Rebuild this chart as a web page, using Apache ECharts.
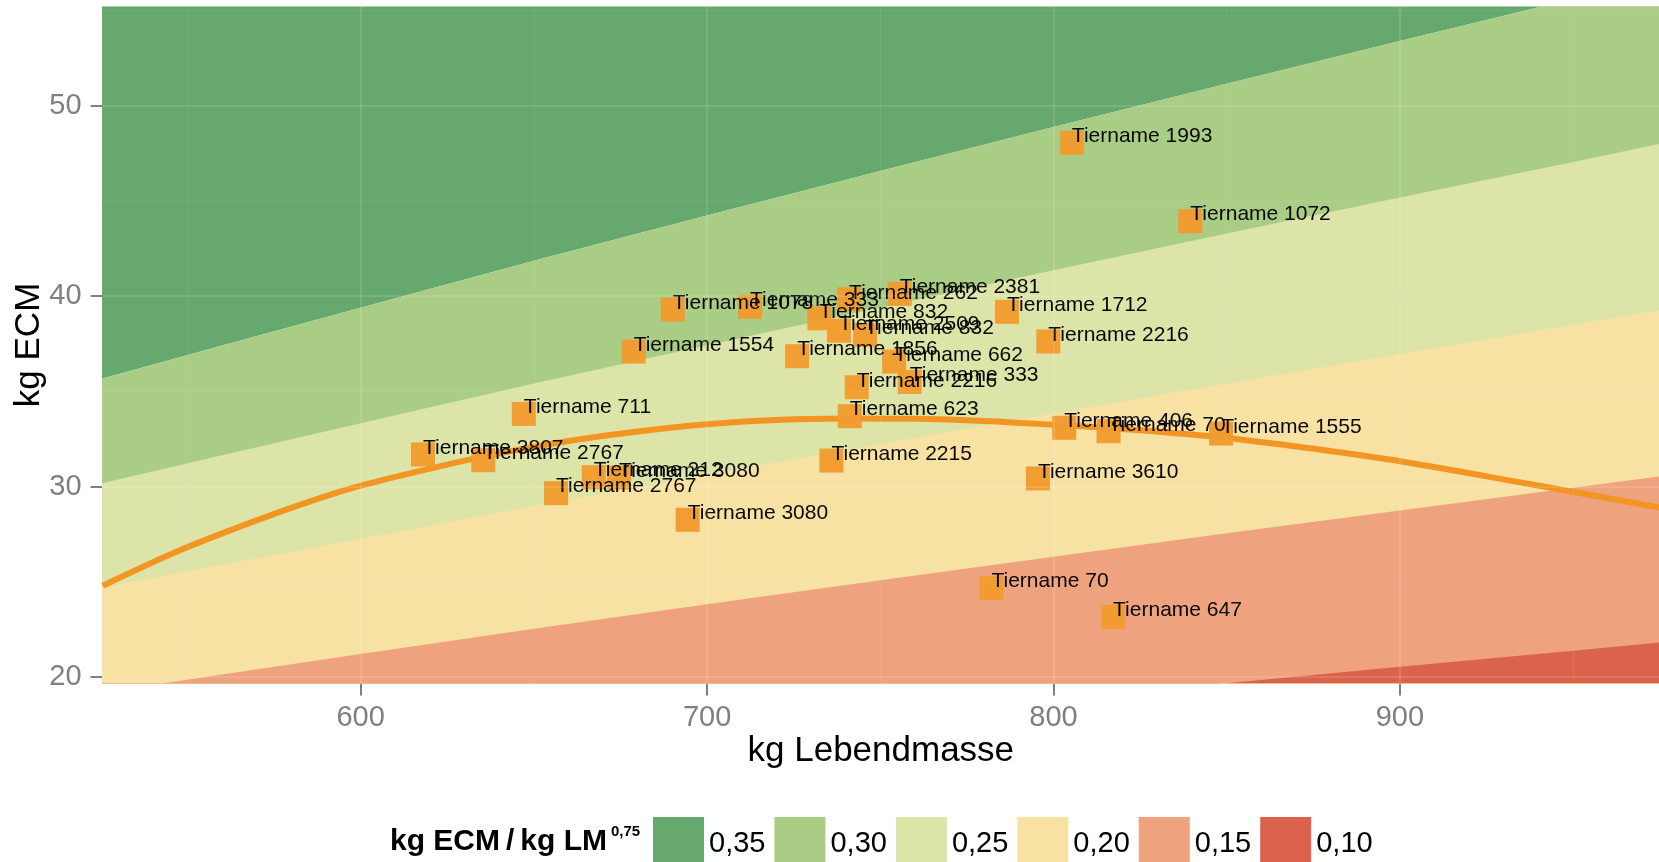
<!DOCTYPE html>
<html><head><meta charset="utf-8">
<script src="https://cdn.jsdelivr.net/npm/echarts@6/dist/echarts.min.js"></script>
<style>html,body{margin:0;padding:0;background:#fff;}#c{width:1659px;height:862px;}</style>
</head><body><div id="c"></div>
<script>
// ---- data ----
const animalNames = ['Tiername 1993','Tiername 1072','Tiername 2381','Tiername 262','Tiername 1078','Tiername 333',
  'Tiername 832','Tiername 2509','Tiername 832','Tiername 1712','Tiername 1554','Tiername 1856','Tiername 662',
  'Tiername 2216','Tiername 2216','Tiername 333','Tiername 623','Tiername 711','Tiername 3807','Tiername 2767',
  'Tiername 212','Tiername 3080','Tiername 2767','Tiername 3080','Tiername 2215','Tiername 406','Tiername 70',
  'Tiername 1555','Tiername 3610','Tiername 70','Tiername 647'];
const liveMass = [805.3, 839.5, 755.6, 741.0, 690.1, 712.4, 732.4, 738.1, 745.6, 786.6, 678.8, 726.0, 754.0,
  798.5, 743.2, 758.5, 741.2, 647.1, 618.0, 635.4, 667.3, 674.6, 656.4, 694.4, 735.9, 803.1, 815.9,
  848.4, 795.5, 782.1, 817.2];
const ecmYield = [48.05, 43.94, 40.12, 39.84, 39.30, 39.44, 38.84, 38.19, 37.97, 39.18, 37.09, 36.85, 36.57,
  37.62, 35.22, 35.50, 33.70, 33.82, 31.69, 31.39, 30.50, 30.48, 29.66, 28.26, 31.37, 33.09, 32.91,
  32.79, 30.43, 24.67, 23.17];

// smoothed trend line
const curveMass = [525.5, 547, 568, 585, 600, 620, 640, 660, 680, 700, 720, 740, 760, 780, 800, 827, 855, 896, 937, 975];
const curveEcm  = [24.8, 26.6, 28.1, 29.2, 30.05, 30.95, 31.75, 32.4, 32.9, 33.28, 33.5, 33.58, 33.56, 33.45, 33.25, 32.93, 32.45, 31.45, 30.15, 28.9];

// efficiency band borders (kg ECM at given live mass)
const bandMass = [520, 560, 600, 650, 700, 750, 800, 850, 900, 950, 980];
const border325 = [35.39, 37.41, 39.39, 41.86, 44.23, 46.57, 48.88, 51.16, 53.40, 55.61, 56.94];
const border275 = [29.95, 31.65, 33.33, 35.42, 37.43, 39.41, 41.36, 43.29, 45.18, 47.05, 48.18];
const border225 = [24.50, 25.90, 27.27, 28.98, 30.62, 32.24, 33.84, 35.42, 36.97, 38.50, 39.42];
const border175 = [19.06, 20.14, 21.21, 22.54, 23.82, 25.08, 26.32, 27.55, 28.75, 29.94, 30.66];
const border125 = [13.61, 14.39, 15.15, 16.10, 17.01, 17.91, 18.80, 19.68, 20.54, 21.39, 21.90];

const bandNames = ['0,35','0,30','0,25','0,20','0,15','0,10'];
const xTicks = [600, 700, 800, 900];
const yTicks = [20, 30, 40, 50];
const xMinorGrid = [550, 650, 750, 850, 950];
const yMinorGrid = [25, 35, 45, 55];

// ---- chart ----
const FONT = 'Liberation Sans, Arial, sans-serif';
const bandColors = ['#66A86E', '#AACD85', '#DCE4A8', '#F7E1A3', '#EEA37E', '#DC634B'];
const bandBorders = [border325, border325, border275, border225, border175, border125];
const zip = (a, b) => a.map((v, i) => [v, b[i]]);

const series = bandNames.map((nm, i) => ({
  name: nm, type: 'line', z: 1, silent: true,
  data: zip(bandMass, bandBorders[i]),
  showSymbol: false, symbol: 'none',
  color: bandColors[i],
  itemStyle: { color: bandColors[i] },
  lineStyle: { width: 0, opacity: 0 },
  areaStyle: { color: bandColors[i], opacity: 1, origin: i === 0 ? 'end' : 'start' },
  clip: true, animation: false
}));

const gridLineMajor = { color: 'rgba(255,255,255,0.12)', width: 2.2, type: 'solid' };
const gridLineMinor = { color: 'rgba(255,255,255,0.07)', width: 1.2, type: 'solid' };
series.push({
  name: 'grid', type: 'line', z: 2, silent: true, data: [],
  markLine: {
    silent: true, symbol: 'none', animation: false, label: { show: false },
    data: [
      ...xTicks.map(v => ({ xAxis: v, lineStyle: gridLineMajor })),
      ...xMinorGrid.map(v => ({ xAxis: v, lineStyle: gridLineMinor })),
      ...yTicks.map(v => ({ yAxis: v, lineStyle: gridLineMajor })),
      ...yMinorGrid.map(v => ({ yAxis: v, lineStyle: gridLineMinor }))
    ]
  }
});

series.push({
  name: 'trend', type: 'line', z: 3, silent: true,
  data: zip(curveMass, curveEcm),
  smooth: 0.3, showSymbol: false, symbol: 'none',
  lineStyle: { color: '#F39522', width: 6 }, clip: true
});

series.push({
  name: 'animals', type: 'scatter', z: 4, silent: true,
  symbol: 'rect', symbolSize: 24,
  itemStyle: { color: '#F29B2E', opacity: 0.97 },
  data: animalNames.map((n, i) => ({ name: n, value: [liveMass[i], ecmYield[i]] })),
  label: {
    show: true, formatter: p => p.name, position: [12, 16],
    align: 'left', verticalAlign: 'bottom',
    color: '#000', fontSize: 21, fontFamily: FONT
  }
});

const chart = echarts.init(document.getElementById('c'), null, { renderer: 'canvas' });
chart.setOption({
  animation: false,
  backgroundColor: '#ffffff',
  grid: { left: 102.6, right: 0, top: 6.3, bottom: 178.4, containLabel: false, outerBoundsMode: 'none' },
  xAxis: {
    type: 'value', min: 525.5, max: 974.8,
    name: 'kg Lebendmasse', nameLocation: 'middle', nameGap: 50, nameMoveOverlap: false,
    nameTextStyle: { fontSize: 35, color: '#000', fontFamily: FONT },
    axisLine: { show: false },
    axisTick: { show: true, length: 12, customValues: xTicks, lineStyle: { color: '#7F7F7F', width: 2 } },
    axisLabel: { customValues: xTicks, margin: 20, fontSize: 29, color: '#7F7F7F', fontFamily: FONT },
    splitLine: { show: false }
  },
  yAxis: {
    type: 'value', min: 19.66, max: 55.22,
    name: 'kg ECM', nameLocation: 'middle', nameGap: 56, nameRotate: 90, nameMoveOverlap: false,
    nameTextStyle: { fontSize: 35, color: '#000', fontFamily: FONT },
    axisLine: { show: false },
    axisTick: { show: true, length: 12, customValues: yTicks, lineStyle: { color: '#7F7F7F', width: 2 } },
    axisLabel: { customValues: yTicks, margin: 21, fontSize: 29, color: '#7F7F7F', fontFamily: FONT },
    splitLine: { show: false }
  },
  legend: {
    data: bandNames, left: 648, top: 812, orient: 'horizontal',
    icon: 'rect', itemWidth: 51, itemHeight: 53, itemGap: 9,
    selectedMode: false,
    textStyle: { fontSize: 29, color: '#000', fontFamily: FONT }
  },
  graphic: [
    { type: 'text', left: 390, top: 827, silent: true,
      style: { text: 'kg ECM\u2009/\u2009kg LM', fontSize: 30, fontWeight: 'bold', fill: '#000', fontFamily: FONT } },
    { type: 'text', left: 611, top: 824, silent: true,
      style: { text: '0,75', fontSize: 15, fontWeight: 'bold', fill: '#000', fontFamily: FONT } }
  ],
  series: series
});
</script>
</body></html>
